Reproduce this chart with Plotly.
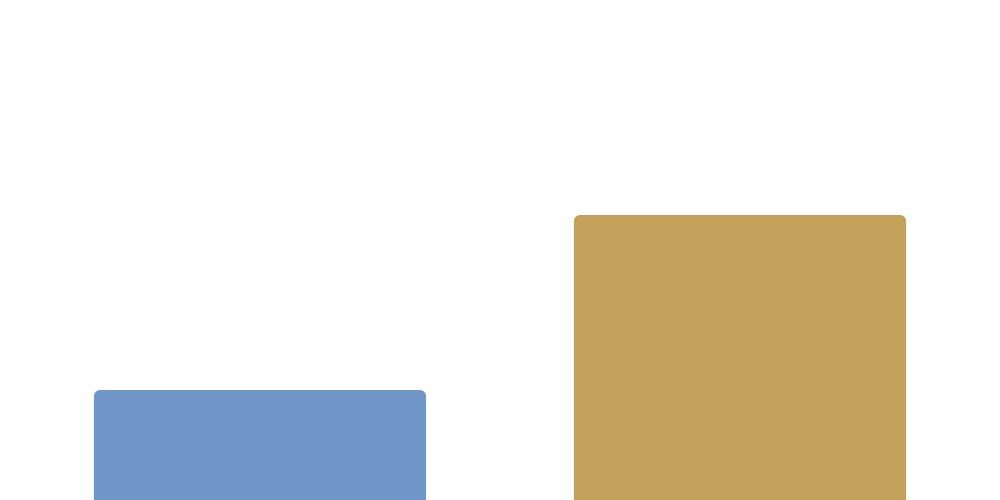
import plotly.graph_objects as go

categories = ["A", "B"]
values = [22, 57]
colors = ["#7196c8", "#c4a15a"]

fig = go.Figure(go.Bar(
    x=categories, y=values,
    marker=dict(color=colors, line=dict(width=0)),
    hoverinfo="skip",
))
fig.update_layout(
    width=1000, height=500,
    margin=dict(l=12, r=28, t=0, b=0),
    paper_bgcolor="white", plot_bgcolor="white",
    bargap=0.308, barcornerradius=6,
    showlegend=False,
    xaxis=dict(visible=False, range=[-0.5, 1.5]),
    yaxis=dict(visible=False, range=[-1.6, 98.4]),
)
fig.write_html("out.html")
